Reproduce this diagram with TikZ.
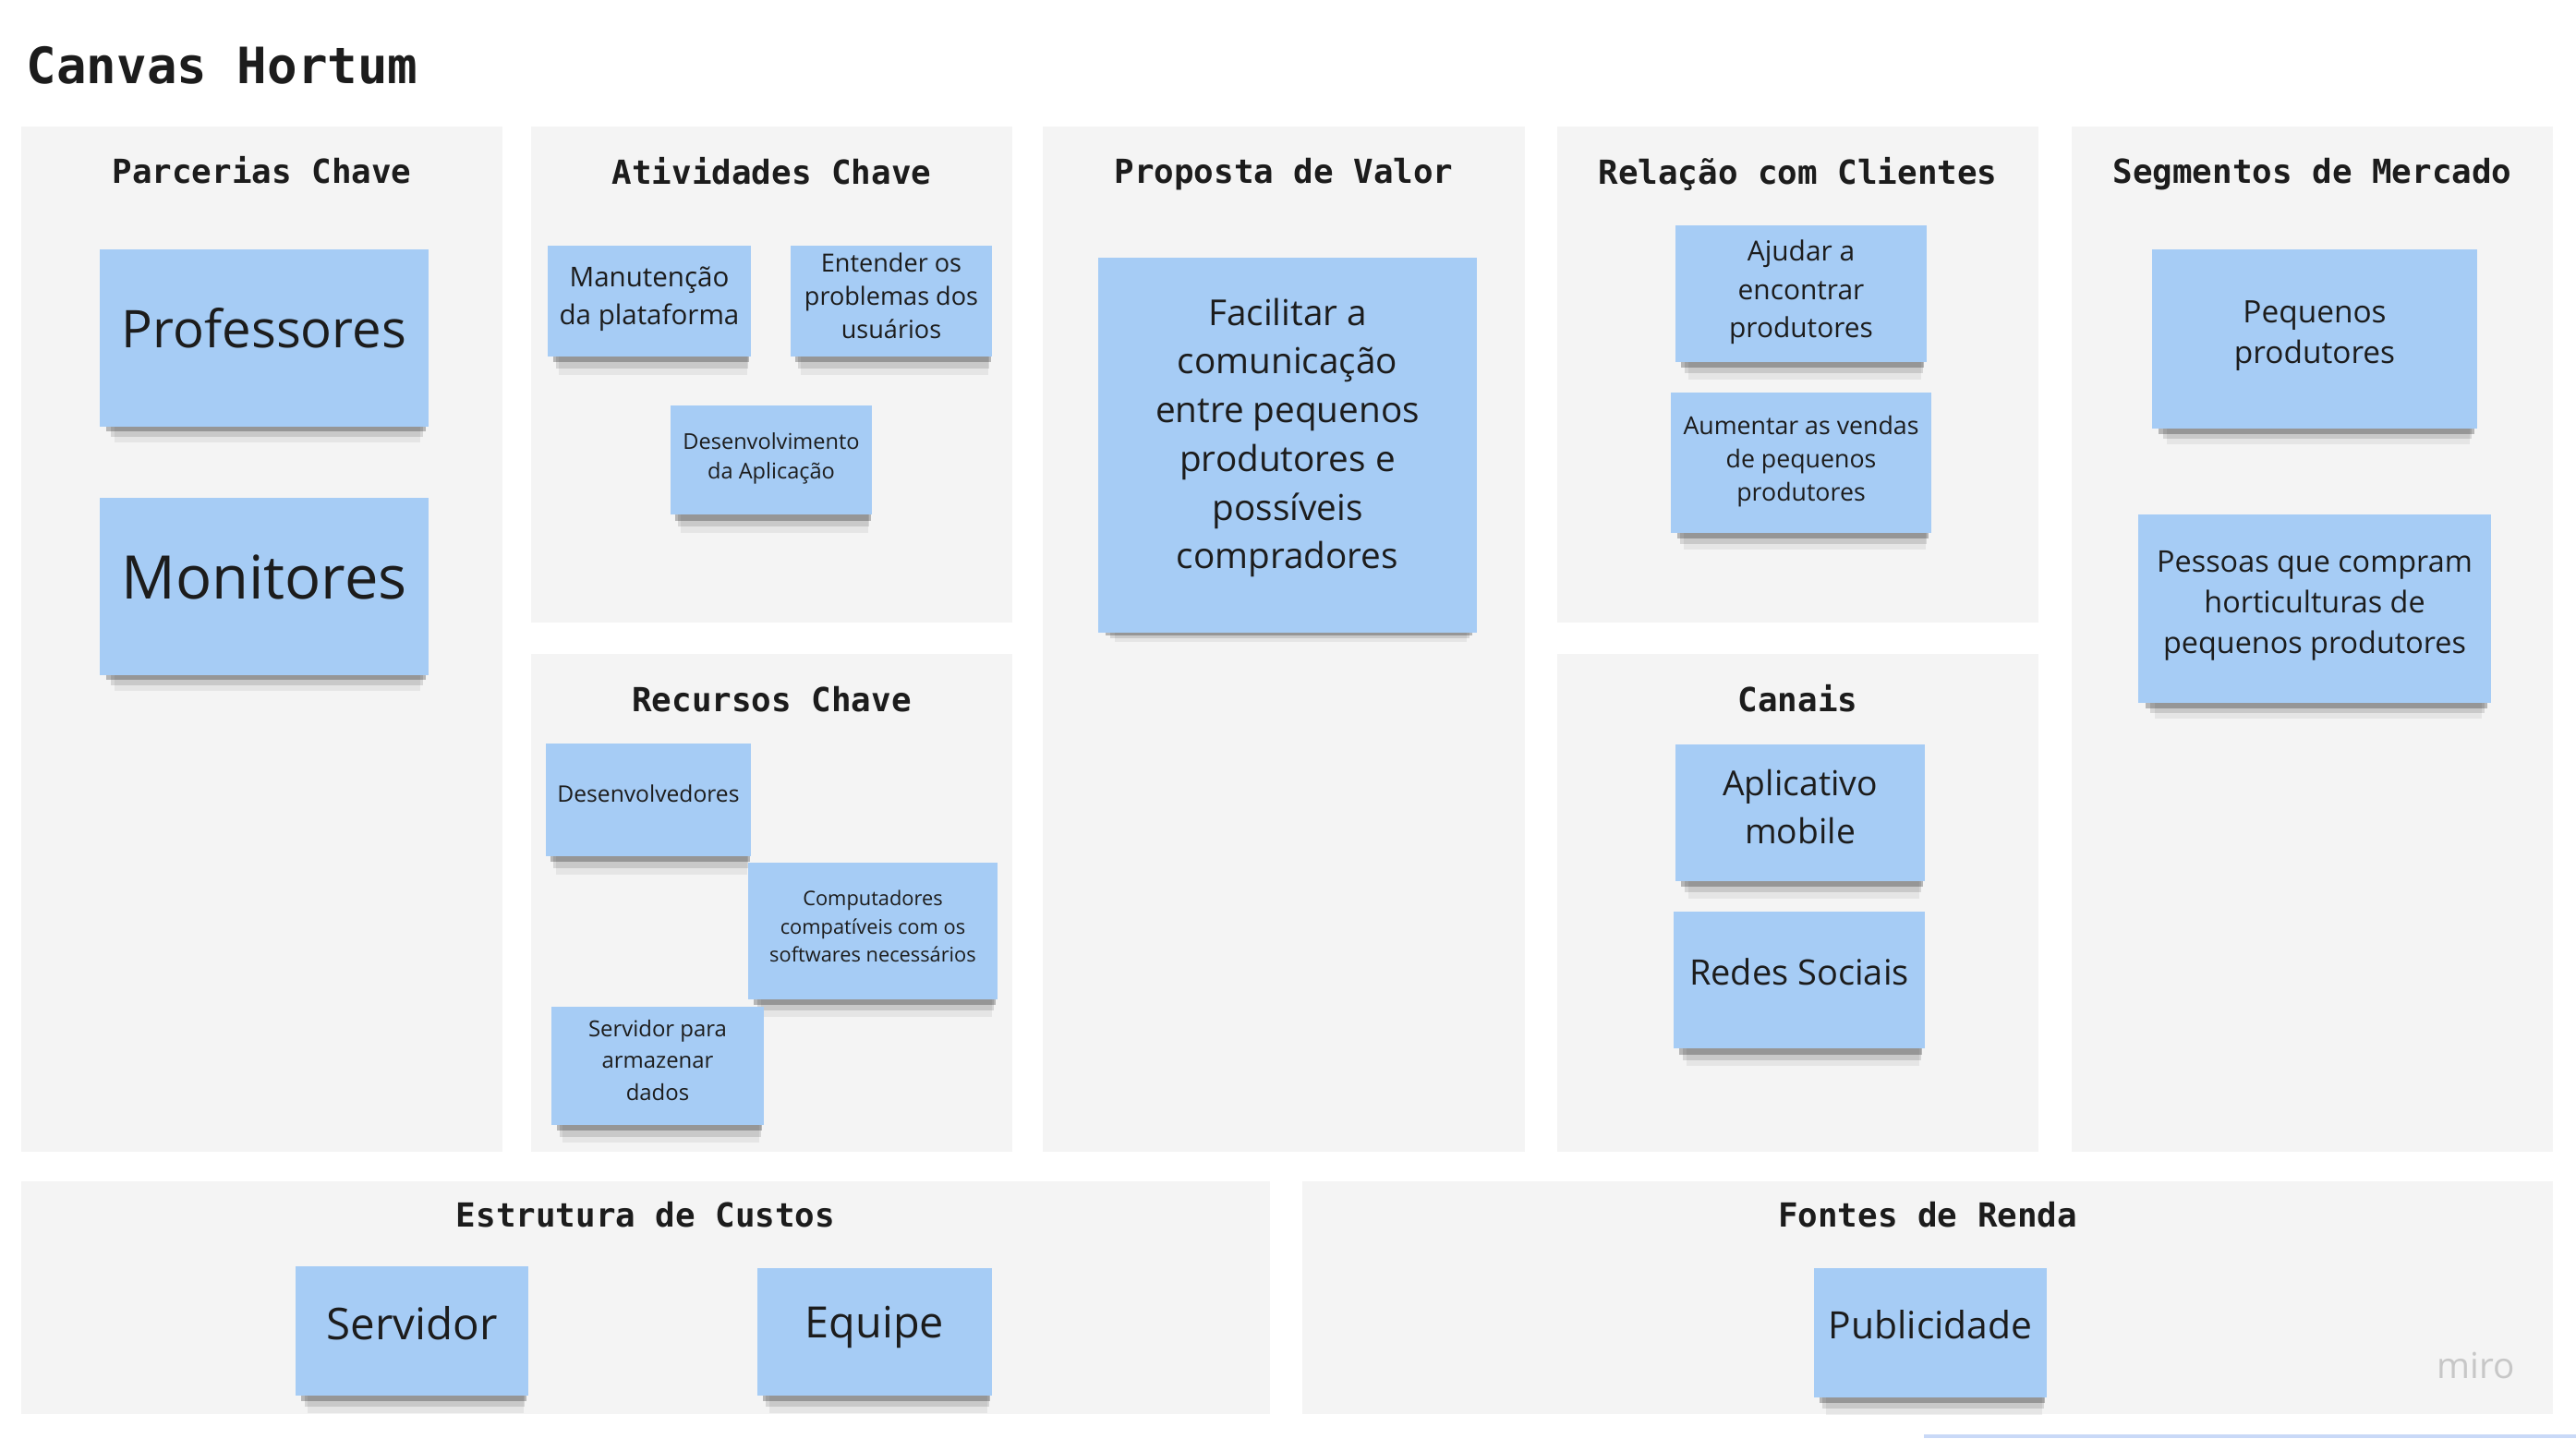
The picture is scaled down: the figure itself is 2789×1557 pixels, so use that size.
\documentclass[tikz,border=0pt]{standalone}
\usepackage{fontspec}
\setmainfont{Open Sans}
\newfontfamily\headmono{DejaVu Sans Mono}
\usetikzlibrary{shadows}
\usetikzlibrary{positioning}
\definecolor{canvas-gray}{HTML}{F4F4F4}
\definecolor{sticky-blue}{HTML}{A6CCF5}
\definecolor{ink}{HTML}{1C1C1C}
\definecolor{selbar}{HTML}{C9D9F7}
\colorlet{watermark}{black!22}
\newcommand{\notefont}[2]{\fontsize{#1}{#2}\selectfont}
\tikzset{
  block/.style={fill=canvas-gray, inner sep=0pt, outer sep=0pt},
  block-title/.style={font=\headmono\bfseries\notefont{10.2}{12}, text=ink, text height=0.76em, text depth=0.24em},
  sticky/.style 2 args={
    fill=sticky-blue,
    text=ink,
    align=center,
    inner sep=0pt,
    minimum width=#1cm,
    minimum height=#2cm,
    general shadow={fill=black, opacity=.06, shadow xshift=0.04cm, shadow yshift=-0.26cm, shadow scale=.93},
    general shadow={fill=black, opacity=.12, shadow xshift=0.03cm, shadow yshift=-0.17cm, shadow scale=.95},
    general shadow={fill=black, opacity=.25, shadow xshift=0.02cm, shadow yshift=-0.09cm, shadow scale=.97}},
  lift/.style={text depth=#1},
}
\newcommand{\canvasblock}[7][0.53cm]{%
% gray block with its heading
\node[block, minimum width=#5cm, minimum height=#6cm] (#2) at (#3,#4) {};
\node[block-title] (#2-title) at ([yshift=-#1]#2.north) {#7};
}

\begin{document}
\begin{tikzpicture}[x=0.01cm, y=-0.01cm]
\useasboundingbox (0,0) rectangle (2789,1557);
\node[anchor=west, inner sep=0pt, text=ink, font=\headmono\bfseries\notefont{15.4}{18}] (title) at (28,71) {Canvas Hortum};
% blocks
\canvasblock{parcerias}{283.5}{692}{5.21}{11.10}{Parcerias Chave}
\canvasblock{atividades}{835.5}{405.5}{5.21}{5.37}{Atividades Chave}
\canvasblock{recursos}{835.5}{977.5}{5.21}{5.39}{Recursos Chave}
\canvasblock{proposta}{1390}{692}{5.22}{11.10}{Proposta de Valor}
\canvasblock{relacao}{1946.5}{405.5}{5.21}{5.37}{Relação com Clientes}
\canvasblock{canais}{1946.5}{977.5}{5.21}{5.39}{Canais}
\canvasblock{segmentos}{2503.5}{692}{5.21}{11.10}{Segmentos de Mercado}
\canvasblock[0.40cm]{custos}{699}{1405}{13.52}{2.52}{Estrutura de Custos}
\canvasblock[0.40cm]{renda}{2087}{1405}{13.54}{2.52}{Fontes de Renda}
% sticky notes
\node[sticky={3.56}{1.91}, lift=6pt, font=\notefont{16}{20}] (professores) at (286,366) {Professores};
\node[sticky={3.56}{1.91}, lift=6pt, font=\notefont{18.5}{22}] (monitores) at (286,635) {Monitores};
\node[sticky={2.19}{1.19}, lift=3.5pt, font=\notefont{8.4}{11.7}] (manutencao) at (703,326) {Manutenção\\da plataforma};
\node[sticky={2.18}{1.19}, lift=3.5pt, font=\notefont{7.7}{10.2}] (entender) at (965,326) {Entender os\\problemas dos\\usuários};
\node[sticky={2.18}{1.18}, lift=2.8pt, font=\notefont{6.7}{9.1}] (desenvolvimento) at (835,498) {Desenvolvimento\\da Aplicação};
\node[sticky={2.22}{1.21}, lift=4pt, font=\notefont{7}{9}] (desenvolvedores) at (702,866) {Desenvolvedores};
\node[sticky={2.69}{1.47}, lift=3pt, font=\notefont{6.2}{8.8}] (computadores) at (945,1008) {Computadores\\compatíveis com os\\softwares necessários};
\node[sticky={2.29}{1.27}, lift=3.5pt, font=\notefont{6.8}{9.7}] (servidor-dados) at (712,1154) {Servidor para\\armazenar\\dados};
\node[sticky={4.09}{4.06}, lift=7.2pt, font=\notefont{11}{15}] (facilitar) at (1394,482) {Facilitar a\\comunicação\\entre pequenos\\produtores e\\possíveis\\compradores};
\node[sticky={2.71}{1.47}, lift=3pt, font=\notefont{8.5}{11.7}] (ajudar) at (1950,318) {Ajudar a\\encontrar\\produtores};
\node[sticky={2.81}{1.51}, lift=2.8pt, font=\notefont{7.6}{10.2}] (aumentar) at (1950,501) {Aumentar as vendas\\de pequenos\\produtores};
\node[sticky={2.69}{1.47}, lift=4pt, font=\notefont{10.6}{14.8}] (aplicativo) at (1949,880) {Aplicativo\\mobile};
\node[sticky={2.71}{1.48}, lift=5pt, font=\notefont{10.8}{14}] (redes) at (1948,1061) {Redes Sociais};
\node[sticky={3.52}{1.94}, lift=4.3pt, font=\notefont{9.5}{12.5}] (pequenos) at (2506,367) {Pequenos\\produtores};
\node[sticky={3.81}{2.04}, lift=4.2pt, font=\notefont{9.2}{12.5}] (pessoas) at (2506,659) {Pessoas que compram\\horticulturas de\\pequenos produtores};
\node[sticky={2.51}{1.39}, lift=5pt, font=\notefont{13.5}{16}] (servidor) at (446,1441) {Servidor};
\node[sticky={2.54}{1.37}, lift=6.2pt, font=\notefont{13.3}{16}] (equipe) at (947,1442) {Equipe};
\node[sticky={2.52}{1.39}, lift=5pt, font=\notefont{11.6}{14}] (publicidade) at (2090,1443) {Publicidade};
% board leftovers
\node[text=watermark, font=\notefont{11}{13}] (miro) at (2681,1478) {miro};
\coordinate (bar-start) at (2083,1555);
\draw[selbar, line width=0.04cm] (bar-start) -- (bar-start -| renda.east) -- ++(25,0);
\end{tikzpicture}
\end{document}
